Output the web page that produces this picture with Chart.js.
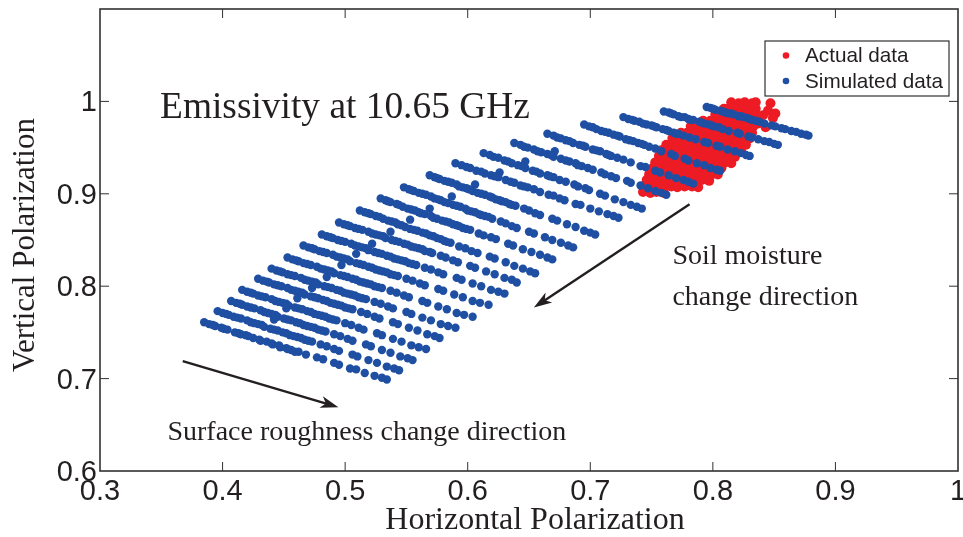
<!DOCTYPE html>
<html>
<head>
<meta charset="utf-8">
<style>
  html, body { margin: 0; padding: 0; background: #fff; }
  canvas { display: block; }
</style>
<script src="https://cdn.jsdelivr.net/npm/chart.js@4"></script>
</head>
<body>
<canvas id="chart" width="963" height="537"></canvas>
<script>
const xTicks = [0.3, 0.4, 0.5, 0.6, 0.7, 0.8, 0.9, 1];
const yTicks = [0.6, 0.7, 0.8, 0.9, 1];

// one line per soil moisture strand, lower left to upper right
const simX = [
  .385,.389,.394,.399,.404,.410,.413,.419,.425,.430,.436,.440,.446,.452,.456,.462,.468,.477,.482,.491,.495,.504,.509,.516,.524,.530,.534,
  .396,.400,.405,.409,.415,.420,.423,.429,.434,.439,.445,.449,.455,.461,.467,.473,.480,.485,.491,.495,.506,.510,.519,.526,.534,.540,.544,
  .407,.411,.416,.420,.426,.431,.434,.440,.445,.450,.456,.460,.466,.472,.478,.484,.491,.496,.502,.506,.517,.521,.530,.537,.545,.551,.555,
  .416,.420,.425,.429,.435,.440,.443,.449,.454,.459,.465,.469,.475,.481,.487,.493,.500,.505,.511,.515,.526,.530,.539,.546,.554,.560,.566,
  .429,.433,.438,.442,.448,.453,.456,.462,.467,.472,.478,.482,.488,.494,.500,.506,.513,.518,.524,.528,.539,.543,.552,.559,.567,.573,.577,
  .440,.444,.449,.453,.459,.464,.467,.473,.478,.483,.489,.493,.499,.505,.511,.517,.524,.529,.535,.539,.550,.554,.563,.570,.578,.584,.590,
  .453,.457,.462,.466,.472,.477,.480,.486,.491,.496,.502,.506,.512,.518,.524,.530,.537,.542,.548,.552,.563,.567,.576,.583,.591,.597,.604,
  .466,.470,.475,.479,.485,.490,.493,.499,.504,.509,.515,.519,.525,.531,.537,.543,.550,.555,.561,.565,.576,.580,.589,.596,.604,.610,.617,
  .481,.485,.490,.494,.500,.505,.508,.514,.519,.524,.530,.534,.540,.546,.552,.558,.565,.570,.576,.580,.591,.595,.604,.611,.619,.625,.630,
  .495,.499,.504,.508,.514,.519,.522,.528,.533,.538,.544,.548,.554,.560,.565,.571,.578,.582,.588,.592,.602,.606,.615,.622,.630,.636,.640,
  .512,.516,.521,.525,.531,.535,.538,.543,.549,.553,.559,.563,.569,.575,.581,.586,.593,.598,.603,.608,.618,.622,.631,.638,.645,.651,.655,
  .529,.533,.537,.542,.547,.551,.554,.560,.565,.570,.575,.579,.585,.591,.596,.602,.609,.613,.619,.623,.633,.637,.645,.652,.659,.665,.669,
  .548,.552,.556,.560,.566,.570,.573,.578,.584,.588,.594,.598,.603,.609,.614,.620,.627,.631,.636,.640,.650,.654,.663,.669,.676,.682,.686,
  .569,.573,.577,.581,.587,.591,.593,.599,.604,.608,.614,.618,.623,.628,.634,.639,.646,.650,.655,.659,.669,.673,.681,.688,.695,.700,.704,
  .590,.595,.602,.607,.614,.619,.625,.631,.638,.643,.649,.654,.659,.666,.670,.675,.679,.688,.692,.700,.707,.714,.719,.723,
  .613,.618,.625,.630,.636,.641,.647,.653,.659,.665,.670,.675,.680,.687,.690,.696,.699,.708,.712,.720,.727,.733,.738,.742,
  .638,.643,.649,.654,.660,.665,.670,.676,.683,.688,.693,.698,.702,.709,.712,.717,.721,.730,.733,.741,.747,.753,.758,.762,
  .665,.670,.676,.680,.686,.691,.696,.702,.708,.713,.717,.722,.727,.733,.741,.745,.753,.757,.764,.770,.776,.780,.784,
  .695,.699,.705,.709,.715,.719,.724,.729,.735,.739,.744,.748,.753,.758,.766,.769,.777,.780,.787,.793,.798,.803,.806,
  .727,.731,.736,.740,.746,.750,.754,.759,.764,.768,.772,.776,.781,.786,.793,.796,.803,.806,.812,.818,.823,.827,.830,
  .760,.764,.768,.772,.777,.780,.784,.789,.793,.797,.801,.805,.808,.813,.820,.822,.829,.832,.837,.842,.846,.850,.853,
  .795,.798,.802,.806,.810,.813,.817,.821,.825,.828,.832,.835,.838,.842,.848,.851,.856,.859,.864,.868,.872,.876,.878,
  // stray points just above the strands
  .442,.452,.461,.473,.485,.497,.509,.522,.537,.553,.569,.587,.606,.626,.647,.671,
  // the packed upper half of each strand
  .392,.401,.415,.421,.431,.441,.447,.453,.459,
  .403,.412,.426,.432,.442,.452,.458,.464,.470,
  .414,.423,.437,.443,.453,.463,.469,.475,.481,
  .423,.432,.446,.452,.462,.472,.478,.484,.490,
  .436,.445,.459,.465,.475,.485,.491,.497,.503,
  .447,.456,.470,.476,.486,.496,.502,.508,.514,
  .460,.469,.483,.489,.499,.509,.515,.521,.527,
  .473,.482,.496,.502,.512,.522,.528,.534,.540,
  .488,.497,.511,.517,.527,.537,.543,.549,.555,
  .502,.511,.525,.531,.541,.551,.557,.563,.569,
  .519,.528,.541,.546,.556,.566,.572,.578,.583,
  .535,.544,.557,.562,.572,.582,.588,.593,.599,
  .554,.563,.576,.581,.591,.600,.606,.611,.617,
  .575,.584,.596,.601,.611,.620,.626,.631,.636,
  .599,.611,.622,.635,.646,
  .621,.633,.644,.656,.667,
  .646,.657,.668,.680,.690,
  .673,.683,.694,.705,.715,
  .702,.712,.722,.732,.742,
  .734,.743,.752,.762,.770,
  .766,.774,.782,.791,.799,
  .800,.808,.815,.823,.830
];
const simY = [
  .761,.759,.757,.755,.753,.750,.749,.747,.744,.742,.740,.738,.736,.733,.731,.729,.726,.723,.721,.717,.715,.711,.710,.706,.703,.701,.699,
  .773,.771,.769,.767,.765,.763,.761,.759,.756,.754,.752,.750,.747,.745,.742,.740,.737,.735,.732,.730,.726,.724,.720,.717,.713,.711,.709,
  .784,.782,.780,.778,.776,.774,.772,.770,.767,.765,.763,.761,.758,.756,.753,.751,.748,.746,.743,.741,.737,.735,.731,.728,.724,.722,.720,
  .796,.794,.792,.790,.788,.786,.784,.782,.779,.777,.775,.773,.770,.768,.765,.763,.760,.758,.755,.753,.749,.747,.743,.740,.736,.734,.732,
  .808,.806,.804,.802,.800,.798,.796,.794,.791,.789,.787,.785,.782,.780,.777,.775,.772,.770,.767,.765,.761,.759,.755,.752,.748,.746,.744,
  .819,.817,.815,.813,.811,.809,.807,.805,.802,.800,.798,.796,.793,.791,.788,.786,.783,.781,.778,.776,.772,.770,.766,.763,.759,.757,.755,
  .831,.829,.827,.825,.823,.821,.819,.817,.814,.812,.810,.808,.805,.803,.800,.798,.795,.793,.790,.788,.784,.782,.778,.775,.771,.769,.767,
  .844,.842,.840,.838,.836,.834,.832,.830,.827,.825,.823,.821,.818,.816,.813,.811,.808,.806,.803,.801,.797,.795,.791,.788,.784,.782,.780,
  .856,.854,.852,.850,.848,.846,.844,.842,.839,.837,.835,.833,.830,.828,.825,.823,.820,.818,.815,.813,.809,.807,.803,.800,.796,.794,.792,
  .869,.867,.865,.863,.861,.859,.857,.855,.852,.850,.848,.846,.843,.841,.838,.836,.833,.831,.828,.826,.822,.820,.816,.813,.809,.807,.804,
  .882,.880,.878,.876,.873,.871,.870,.867,.864,.862,.860,.858,.855,.852,.849,.847,.843,.841,.838,.836,.832,.830,.826,.822,.819,.816,.814,
  .895,.893,.891,.889,.886,.884,.883,.880,.878,.876,.873,.871,.869,.866,.863,.861,.857,.855,.853,.851,.846,.844,.840,.837,.834,.831,.829,
  .907,.905,.903,.901,.899,.897,.895,.893,.890,.888,.886,.884,.881,.878,.876,.873,.870,.868,.865,.863,.859,.857,.853,.850,.847,.844,.842,
  .920,.918,.916,.914,.912,.910,.908,.906,.903,.901,.899,.897,.894,.892,.889,.887,.884,.882,.879,.877,.873,.871,.867,.864,.860,.858,.856,
  .933,.931,.928,.925,.922,.920,.918,.915,.912,.909,.907,.905,.902,.899,.898,.895,.893,.889,.888,.884,.881,.878,.876,.874,
  .944,.942,.939,.936,.933,.931,.928,.925,.922,.920,.918,.915,.913,.910,.908,.906,.904,.900,.898,.894,.891,.888,.886,.884,
  .955,.953,.950,.948,.945,.943,.940,.938,.935,.933,.930,.928,.926,.923,.921,.919,.917,.914,.912,.909,.906,.903,.901,.899,
  .965,.963,.960,.958,.955,.953,.951,.948,.946,.943,.941,.939,.937,.934,.930,.929,.925,.923,.920,.917,.915,.913,.911,
  .975,.973,.970,.968,.966,.964,.962,.959,.957,.955,.953,.951,.949,.946,.943,.941,.938,.936,.933,.931,.928,.926,.925,
  .983,.981,.979,.978,.975,.974,.972,.970,.968,.966,.965,.963,.961,.959,.956,.955,.952,.951,.948,.946,.944,.942,.941,
  .989,.988,.986,.984,.983,.981,.980,.978,.976,.975,.973,.972,.970,.968,.966,.965,.962,.961,.959,.957,.956,.954,.953,
  .994,.993,.991,.990,.988,.987,.986,.984,.983,.982,.980,.979,.978,.976,.974,.973,.971,.970,.968,.967,.965,.964,.963,
  // stray points just above the strands
  .764,.776,.787,.798,.810,.823,.835,.846,.859,.872,.884,.897,.910,.923,.935,.946,
  // the packed upper half of each strand
  .758,.754,.748,.746,.741,.737,.734,.732,.729,
  .770,.766,.760,.758,.753,.749,.746,.744,.741,
  .781,.777,.771,.769,.764,.760,.757,.755,.752,
  .793,.789,.783,.781,.776,.772,.769,.767,.764,
  .805,.801,.795,.793,.788,.784,.781,.779,.776,
  .816,.812,.806,.804,.799,.795,.792,.790,.787,
  .828,.824,.818,.816,.811,.807,.804,.802,.799,
  .841,.837,.831,.829,.824,.820,.817,.815,.812,
  .853,.849,.843,.841,.836,.832,.829,.827,.824,
  .866,.862,.856,.854,.849,.845,.842,.840,.837,
  .879,.875,.869,.866,.861,.857,.854,.851,.848,
  .892,.888,.882,.879,.874,.870,.867,.865,.862,
  .904,.900,.894,.891,.887,.882,.880,.877,.875,
  .917,.913,.907,.905,.900,.896,.893,.891,.888,
  .929,.924,.919,.913,.908,
  .940,.935,.930,.924,.919,
  .951,.946,.942,.936,.931,
  .961,.957,.952,.947,.942,
  .972,.967,.963,.958,.954,
  .980,.976,.973,.969,.965,
  .987,.983,.980,.977,.974,
  .992,.989,.987,.984,.981
];

const actualX = [
  .815,.821,.826,.832,.835,
  .809,.812,.818,.823,.829,.835,
  .802,.807,.813,.818,.824,.830,.835,
  .792,.798,.804,.809,.815,.820,.826,.832,.835,
  .782,.788,.793,.799,.804,.810,.816,.821,.827,.833,
  .774,.779,.785,.791,.796,.802,.808,.813,.819,.825,.832,
  .767,.773,.778,.784,.790,.795,.801,.807,.812,.818,.824,.830,
  .762,.768,.773,.779,.785,.790,.796,.802,.807,.813,.819,.824,.827,
  .758,.763,.769,.775,.780,.786,.792,.797,.803,.809,.814,.820,.823,
  .756,.761,.767,.773,.778,.784,.790,.795,.801,.807,.812,.818,
  .753,.759,.764,.770,.776,.781,.787,.793,.798,.804,.810,.815,
  .751,.756,.762,.768,.773,.779,.785,.790,.796,.802,.807,
  .748,.754,.760,.765,.771,.777,.782,.788,.794,.799,.804,
  .746,.752,.757,.763,.769,.774,.780,.786,.791,.797,
  .743,.749,.754,.760,.766,.771,.777,.783,.788,
  .743,.749,.754,.760,
  .847,.841,.845,.851,.849,.837,.843,.833
];
const actualY = [
  .999,.998,.999,.998,.999,
  .992,.992,.993,.992,.993,.992,
  .986,.986,.985,.986,.986,.985,.986,
  .979,.979,.980,.979,.979,.980,.979,.979,.979,
  .973,.973,.972,.973,.973,.972,.973,.973,.972,.973,
  .966,.966,.967,.966,.966,.966,.967,.966,.966,.965,.966,
  .960,.960,.959,.960,.960,.960,.959,.960,.960,.959,.960,.960,
  .953,.954,.953,.954,.953,.954,.953,.954,.953,.954,.953,.954,.953,
  .947,.947,.946,.947,.947,.946,.947,.947,.946,.947,.947,.946,.947,
  .941,.940,.941,.940,.941,.940,.941,.940,.941,.940,.941,.940,
  .934,.934,.933,.934,.934,.933,.934,.934,.933,.934,.934,.933,
  .928,.927,.928,.927,.928,.927,.928,.927,.928,.927,.928,
  .921,.921,.920,.921,.921,.920,.921,.921,.920,.921,.921,
  .915,.914,.915,.914,.915,.914,.915,.914,.915,.914,
  .908,.908,.907,.908,.908,.907,.908,.908,.907,
  .902,.901,.902,.901,
  .998,.985,.990,.987,.982,.976,.972,.996
];

const SANS = '"Liberation Sans", Arial, sans-serif';
const SERIF = '"Liberation Serif", "Times New Roman", serif';
const INK = '#231f20';
const RED = '#ed1c24';
const BLUE = '#1f4fa2';

function toPoints(xs, ys) {
  return xs.map((x, i) => ({ x, y: ys[i] }));
}

// ticks point inwards on all four sides, so chart.js's own tick marks won't do
const framePlugin = {
  id: 'frame',
  afterDatasetsDraw(chart) {
    const { ctx, chartArea: a, scales } = chart;
    ctx.save();
    ctx.strokeStyle = '#333132';
    ctx.lineWidth = 1.6;
    ctx.strokeRect(a.left, a.top, a.right - a.left, a.bottom - a.top);
    ctx.lineWidth = 1;
    ctx.beginPath();
    xTicks.slice(1, -1).forEach((v) => {
      const px = scales.x.getPixelForValue(v);
      ctx.moveTo(px, a.bottom); ctx.lineTo(px, a.bottom - 9);
      ctx.moveTo(px, a.top); ctx.lineTo(px, a.top + 9);
    });
    yTicks.slice(1).forEach((v) => {
      const py = scales.y.getPixelForValue(v);
      ctx.moveTo(a.left, py); ctx.lineTo(a.left + 9, py);
      ctx.moveTo(a.right, py); ctx.lineTo(a.right - 9, py);
    });
    ctx.stroke();
    ctx.restore();
  }
};

const notes = [
  { text: 'Emissivity at 10.65 GHz', x: 0.349, y: 0.993, size: 37.4 },
  { text: 'Soil moisture', x: 0.767, y: 0.832, size: 28 },
  { text: 'change direction', x: 0.767, y: 0.788, size: 28 },
  { text: 'Surface roughness change direction', x: 0.355, y: 0.642, size: 28 }
];
const arrows = [
  { from: [0.781, 0.8886], to: [0.654, 0.777] },
  { from: [0.3675, 0.719], to: [0.4945, 0.669] }
];

const notesPlugin = {
  id: 'notes',
  afterDatasetsDraw(chart) {
    const { ctx, scales } = chart;
    ctx.save();
    ctx.fillStyle = INK;
    ctx.strokeStyle = INK;
    ctx.textAlign = 'left';
    ctx.textBaseline = 'middle';
    notes.forEach((n) => {
      ctx.font = `${n.size}px ${SERIF}`;
      ctx.fillText(n.text, scales.x.getPixelForValue(n.x), scales.y.getPixelForValue(n.y));
    });
    arrows.forEach((arrow) => {
      const x1 = scales.x.getPixelForValue(arrow.from[0]);
      const y1 = scales.y.getPixelForValue(arrow.from[1]);
      const x2 = scales.x.getPixelForValue(arrow.to[0]);
      const y2 = scales.y.getPixelForValue(arrow.to[1]);
      const angle = Math.atan2(y2 - y1, x2 - x1);
      ctx.lineWidth = 2.4;
      ctx.beginPath();
      ctx.moveTo(x1, y1);
      ctx.lineTo(x2 - 10 * Math.cos(angle), y2 - 10 * Math.sin(angle));
      ctx.stroke();
      ctx.save();
      ctx.translate(x2, y2);
      ctx.rotate(angle);
      ctx.beginPath();
      ctx.moveTo(0, 0);
      ctx.lineTo(-18, -6);
      ctx.lineTo(-13, 0);
      ctx.lineTo(-18, 6);
      ctx.closePath();
      ctx.fill();
      ctx.restore();
    });
    // axis titles are not centred on the plot, so they go here too
    ctx.textAlign = 'center';
    ctx.font = `32px ${SERIF}`;
    ctx.fillText('Horizontal Polarization', 535, 521);
    ctx.save();
    ctx.translate(26, 245);
    ctx.rotate(-Math.PI / 2);
    ctx.font = `31px ${SERIF}`;
    ctx.fillText('Vertical Polarization', 0, 0);
    ctx.restore();
    ctx.restore();
  }
};

// legend box sits inside the plot, drawn by hand from the dataset labels
const legendPlugin = {
  id: 'insideLegend',
  afterDraw(chart) {
    const { ctx } = chart;
    ctx.save();
    ctx.fillStyle = '#fff';
    ctx.fillRect(765, 41, 184, 55);
    ctx.strokeStyle = '#333132';
    ctx.lineWidth = 1.2;
    ctx.strokeRect(765, 41, 184, 55);
    ctx.font = `20.7px ${SANS}`;
    ctx.textBaseline = 'middle';
    ctx.textAlign = 'left';
    chart.data.datasets.forEach((ds, i) => {
      const y = 55.5 + i * 25.5;
      ctx.fillStyle = ds.backgroundColor;
      ctx.beginPath();
      ctx.arc(786, y, 3.3, 0, Math.PI * 2);
      ctx.fill();
      ctx.fillStyle = INK;
      ctx.fillText(ds.label, 805, y + 1);
    });
    ctx.restore();
  }
};

new Chart(document.getElementById('chart'), {
  type: 'scatter',
  data: {
    datasets: [
      {
        label: 'Actual data',
        data: toPoints(actualX, actualY),
        backgroundColor: RED,
        borderWidth: 0,
        pointRadius: 5,
        order: 2
      },
      {
        label: 'Simulated data',
        data: toPoints(simX, simY),
        backgroundColor: BLUE,
        borderWidth: 0,
        pointRadius: 4.2,
        order: 1
      }
    ]
  },
  options: {
    responsive: false,
    animation: false,
    layout: { padding: { top: 9, right: 3, left: 0, bottom: 0 } },
    plugins: {
      legend: { display: false },
      tooltip: { enabled: false }
    },
    scales: {
      x: {
        type: 'linear',
        min: 0.3,
        max: 1,
        afterBuildTicks: (scale) => { scale.ticks = xTicks.map((value) => ({ value })); },
        afterFit: (scale) => {
          scale.height = 66;
          scale.paddingLeft = 0;
          scale.paddingRight = 0;
        },
        grid: { display: false, drawTicks: false },
        border: { display: false },
        ticks: {
          autoSkip: false,
          maxRotation: 0,
          padding: 4,
          color: INK,
          font: { family: SANS, size: 29 },
          callback: (v) => String(v)
        }
      },
      y: {
        type: 'linear',
        min: 0.6,
        max: 1.1,
        afterBuildTicks: (scale) => { scale.ticks = yTicks.map((value) => ({ value })); },
        afterFit: (scale) => {
          scale.width = 100;
          scale.paddingTop = 0;
          scale.paddingBottom = 0;
        },
        grid: { display: false, drawTicks: false },
        border: { display: false },
        ticks: {
          padding: 3,
          labelOffset: 2,
          color: INK,
          font: { family: SANS, size: 29 },
          callback: (v) => String(v)
        }
      }
    }
  },
  plugins: [framePlugin, notesPlugin, legendPlugin]
});
</script>
</body>
</html>
